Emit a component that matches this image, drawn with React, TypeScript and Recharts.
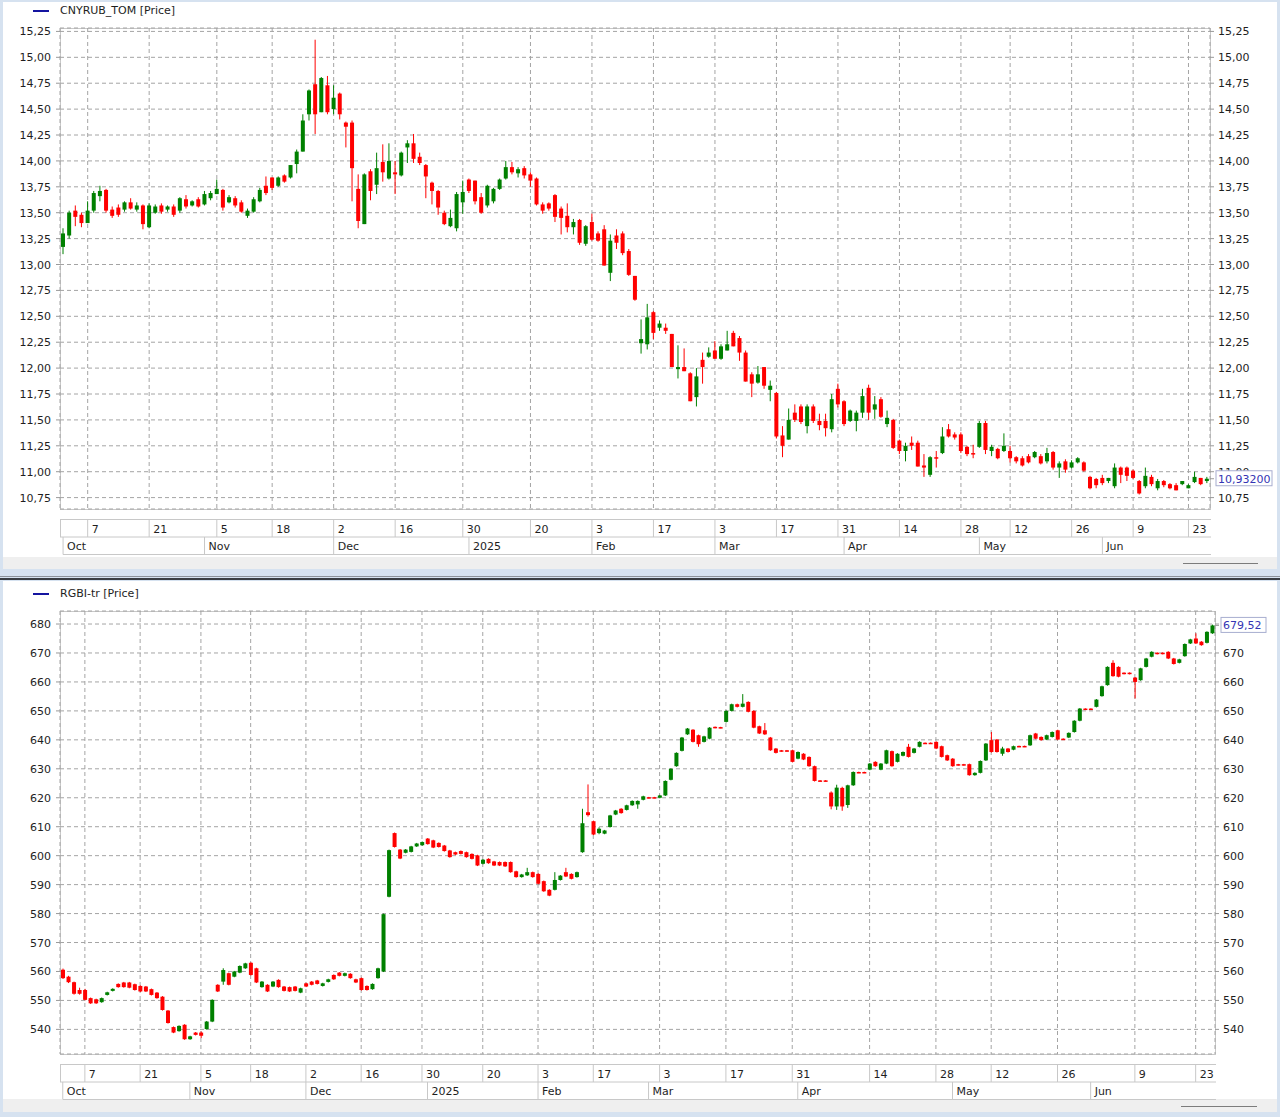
import React from 'react';
import { ComposedChart, Bar, XAxis, YAxis, CartesianGrid } from 'recharts';

type Candle = [number, number, number, number]; // open, high, low, close

const FONT = '"DejaVu Sans", "Liberation Sans", Arial, sans-serif';
const UP = '#008000';
const DOWN = '#ff0000';
const GRID = '#a4a4a4';
const FRAME = '#c8c8c8';
const TEXT = '#1e1e1e';

// CNYRUB_TOM daily candles, Oct 2024 - Jun 2025
const cnyCandles: Candle[] = [
  [13.17, 13.35, 13.1, 13.3], [13.28, 13.52, 13.25, 13.5], [13.52, 13.57, 13.37, 13.46], [13.48, 13.5, 13.36, 13.4],
  [13.4, 13.61, 13.4, 13.52], [13.52, 13.71, 13.5, 13.69], [13.66, 13.76, 13.61, 13.71], [13.72, 13.73, 13.5, 13.52],
  [13.53, 13.56, 13.45, 13.47], [13.55, 13.58, 13.46, 13.48], [13.53, 13.61, 13.51, 13.6], [13.6, 13.64, 13.53, 13.54],
  [13.53, 13.6, 13.51, 13.57], [13.57, 13.58, 13.34, 13.39], [13.36, 13.59, 13.35, 13.57], [13.5, 13.58, 13.49, 13.56],
  [13.57, 13.59, 13.49, 13.51], [13.53, 13.57, 13.51, 13.56], [13.56, 13.58, 13.46, 13.48], [13.52, 13.65, 13.5, 13.64],
  [13.63, 13.67, 13.54, 13.56], [13.57, 13.62, 13.56, 13.61], [13.63, 13.65, 13.55, 13.56], [13.58, 13.71, 13.57, 13.68],
  [13.64, 13.71, 13.62, 13.69], [13.68, 13.82, 13.68, 13.73], [13.72, 13.73, 13.52, 13.55], [13.6, 13.67, 13.59, 13.65],
  [13.64, 13.66, 13.55, 13.57], [13.6, 13.62, 13.5, 13.51], [13.47, 13.54, 13.45, 13.52], [13.51, 13.65, 13.5, 13.63],
  [13.61, 13.74, 13.6, 13.72], [13.76, 13.85, 13.67, 13.69], [13.84, 13.84, 13.72, 13.74], [13.76, 13.85, 13.75, 13.84],
  [13.86, 13.87, 13.79, 13.8], [13.84, 13.96, 13.83, 13.96], [13.97, 14.11, 13.88, 14.09], [14.09, 14.45, 14.09, 14.39],
  [14.45, 14.69, 14.39, 14.68], [14.74, 15.17, 14.26, 14.45], [14.47, 14.81, 14.47, 14.8], [14.73, 14.82, 14.45, 14.47],
  [14.5, 14.73, 14.45, 14.61], [14.65, 14.66, 14.4, 14.45], [14.37, 14.38, 14.13, 14.33], [14.37, 14.39, 13.61, 13.93],
  [13.73, 13.87, 13.35, 13.42], [13.39, 13.88, 13.39, 13.87], [13.9, 13.92, 13.62, 13.71], [13.77, 14.08, 13.68, 13.93],
  [13.99, 14.16, 13.8, 13.89], [13.83, 14.17, 13.82, 14.0], [13.89, 14.0, 13.68, 13.87], [13.86, 14.09, 13.85, 14.08],
  [14.13, 14.2, 13.98, 14.17], [14.17, 14.26, 13.98, 14.02], [14.04, 14.08, 13.96, 13.98], [13.96, 13.97, 13.64, 13.85],
  [13.79, 13.8, 13.58, 13.71], [13.71, 13.72, 13.48, 13.55], [13.5, 13.52, 13.38, 13.39], [13.37, 13.53, 13.36, 13.45],
  [13.35, 13.7, 13.32, 13.68], [13.6, 13.81, 13.49, 13.7], [13.82, 13.83, 13.69, 13.71], [13.81, 13.81, 13.58, 13.61],
  [13.65, 13.69, 13.49, 13.5], [13.57, 13.77, 13.55, 13.76], [13.61, 13.74, 13.59, 13.73], [13.73, 13.83, 13.72, 13.82],
  [13.83, 14.0, 13.82, 13.94], [13.94, 13.99, 13.87, 13.89], [13.88, 13.94, 13.84, 13.92], [13.93, 13.95, 13.83, 13.86],
  [13.87, 13.89, 13.75, 13.81], [13.83, 13.84, 13.57, 13.58], [13.58, 13.6, 13.49, 13.52], [13.59, 13.6, 13.52, 13.54],
  [13.67, 13.68, 13.41, 13.46], [13.54, 13.56, 13.29, 13.45], [13.47, 13.59, 13.31, 13.36], [13.36, 13.44, 13.29, 13.41],
  [13.43, 13.44, 13.19, 13.21], [13.2, 13.38, 13.18, 13.37], [13.41, 13.49, 13.23, 13.24], [13.3, 13.32, 13.22, 13.23],
  [13.34, 13.38, 12.99, 12.99], [12.92, 13.29, 12.84, 13.23], [13.28, 13.34, 13.15, 13.21], [13.3, 13.32, 13.09, 13.11],
  [13.13, 13.15, 12.89, 12.9], [12.89, 12.89, 12.65, 12.66], [12.24, 12.47, 12.14, 12.28], [12.23, 12.62, 12.18, 12.49],
  [12.54, 12.55, 12.28, 12.34], [12.39, 12.46, 12.36, 12.43], [12.39, 12.43, 12.33, 12.36], [12.33, 12.33, 12.01, 12.01],
  [11.99, 12.22, 11.9, 12.01], [12.01, 12.19, 11.97, 11.97], [11.95, 11.96, 11.68, 11.68], [11.72, 12.0, 11.63, 11.92],
  [12.08, 12.15, 11.85, 12.01], [12.11, 12.2, 12.1, 12.15], [12.17, 12.26, 12.09, 12.09], [12.09, 12.23, 12.08, 12.21],
  [12.17, 12.36, 12.17, 12.23], [12.34, 12.36, 12.21, 12.21], [12.29, 12.31, 12.07, 12.15], [12.15, 12.17, 11.87, 11.87],
  [11.94, 11.96, 11.72, 11.85], [11.86, 12.02, 11.85, 11.94], [12.01, 12.01, 11.8, 11.83], [11.79, 11.88, 11.68, 11.83],
  [11.76, 11.77, 11.32, 11.34], [11.35, 11.44, 11.14, 11.25], [11.31, 11.61, 11.31, 11.5], [11.57, 11.65, 11.48, 11.5],
  [11.63, 11.65, 11.46, 11.48], [11.44, 11.65, 11.37, 11.63], [11.63, 11.65, 11.47, 11.49], [11.49, 11.56, 11.4, 11.45],
  [11.49, 11.56, 11.34, 11.42], [11.41, 11.75, 11.38, 11.7], [11.8, 11.85, 11.62, 11.65], [11.68, 11.69, 11.44, 11.46],
  [11.49, 11.6, 11.48, 11.59], [11.49, 11.59, 11.39, 11.57], [11.57, 11.8, 11.52, 11.73], [11.81, 11.84, 11.5, 11.57],
  [11.6, 11.73, 11.51, 11.65], [11.7, 11.72, 11.52, 11.53], [11.46, 11.59, 11.43, 11.52], [11.5, 11.51, 11.22, 11.23],
  [11.3, 11.31, 11.17, 11.2], [11.2, 11.28, 11.1, 11.25], [11.28, 11.34, 11.21, 11.25], [11.28, 11.3, 11.05, 11.05],
  [11.06, 11.17, 10.95, 11.04], [10.97, 11.15, 10.95, 11.14], [11.14, 11.2, 11.04, 11.13], [11.18, 11.43, 11.17, 11.34],
  [11.41, 11.46, 11.33, 11.34], [11.36, 11.38, 11.31, 11.33], [11.36, 11.38, 11.18, 11.2], [11.24, 11.25, 11.15, 11.17],
  [11.18, 11.26, 11.13, 11.17], [11.24, 11.49, 11.23, 11.47], [11.47, 11.49, 11.17, 11.21], [11.2, 11.26, 11.15, 11.24],
  [11.22, 11.23, 11.12, 11.13], [11.2, 11.37, 11.19, 11.25], [11.2, 11.25, 11.09, 11.13], [11.14, 11.15, 11.08, 11.1],
  [11.13, 11.15, 11.05, 11.06], [11.15, 11.17, 11.08, 11.09], [11.14, 11.2, 11.13, 11.19], [11.15, 11.17, 11.07, 11.08],
  [11.1, 11.23, 11.08, 11.18], [11.19, 11.2, 11.02, 11.04], [11.04, 11.1, 10.94, 11.08], [11.1, 11.12, 10.99, 11.02],
  [11.04, 11.11, 11.03, 11.09], [11.09, 11.14, 11.08, 11.13], [11.09, 11.1, 11.0, 11.01], [10.95, 10.96, 10.83, 10.84],
  [10.93, 10.94, 10.84, 10.87], [10.94, 10.97, 10.87, 10.89], [10.91, 10.94, 10.89, 10.94], [10.86, 11.08, 10.84, 11.04],
  [11.04, 11.05, 10.89, 10.97], [11.04, 11.05, 10.91, 10.96], [11.01, 11.02, 10.93, 10.94], [10.91, 10.92, 10.78, 10.79],
  [10.86, 11.04, 10.84, 10.96], [10.95, 10.97, 10.86, 10.88], [10.84, 10.93, 10.82, 10.91], [10.91, 10.92, 10.85, 10.87],
  [10.88, 10.89, 10.83, 10.84], [10.87, 10.89, 10.82, 10.82], [10.88, 10.91, 10.87, 10.91], [10.84, 10.88, 10.84, 10.87],
  [10.9, 11.0, 10.89, 10.95], [10.94, 10.94, 10.87, 10.88], [10.91, 10.95, 10.89, 10.932],
];
const cnyDayTicks = [4, 14, 25, 34, 44, 54, 65, 76, 86, 96, 106, 116, 126, 136, 146, 154, 164, 174, 183];
const cnyDayLabels = ['7', '21', '5', '18', '2', '16', '30', '20', '3', '17', '3', '17', '31', '14', '28', '12', '26', '9', '23'];
const cnyMonthTicks = [0, 23, 44, 66, 86, 106, 127, 149, 169];
const cnyMonthLabels = ['Oct', 'Nov', 'Dec', '2025', 'Feb', 'Mar', 'Apr', 'May', 'Jun'];
const cnyPriceTicks = [10.75, 11, 11.25, 11.5, 11.75, 12, 12.25, 12.5, 12.75, 13, 13.25, 13.5, 13.75, 14, 14.25, 14.5, 14.75, 15, 15.25];

// RGBI-tr daily candles, Oct 2024 - Jun 2025
const rgbiCandles: Candle[] = [
  [560.6, 561.0, 557.4, 557.7], [558.2, 558.5, 556.0, 556.3], [556.3, 556.5, 552.0, 552.3], [553.6, 554.4, 552.0, 552.3],
  [553.6, 554.0, 550.0, 550.2], [550.8, 551.0, 548.8, 549.0], [550.4, 550.6, 548.8, 549.0], [549.4, 551.0, 549.2, 550.8],
  [551.9, 553.0, 551.7, 552.8], [553.3, 554.2, 553.1, 554.0], [555.7, 555.9, 554.4, 554.6], [556.2, 556.4, 554.4, 554.6],
  [556.2, 556.4, 554.2, 554.4], [555.6, 555.8, 553.4, 553.6], [555.0, 555.2, 552.9, 553.1], [554.8, 555.0, 552.9, 553.1],
  [553.9, 554.1, 551.7, 551.9], [552.7, 552.9, 550.6, 550.8], [551.3, 551.5, 546.5, 546.7], [546.5, 546.7, 542.0, 542.2],
  [540.8, 541.0, 538.7, 538.9], [539.4, 541.4, 539.2, 541.2], [541.6, 541.8, 536.4, 536.6], [536.6, 537.8, 536.4, 537.6],
  [538.9, 539.1, 537.9, 538.1], [538.9, 539.3, 537.0, 537.8], [540.1, 542.9, 539.9, 542.7], [542.7, 550.4, 542.5, 550.2],
  [555.4, 555.6, 552.9, 553.1], [556.5, 561.1, 555.4, 560.5], [559.4, 559.6, 555.2, 555.4], [558.2, 560.2, 558.0, 560.0],
  [559.6, 562.1, 559.4, 561.9], [561.1, 563.0, 560.9, 562.8], [563.0, 563.2, 558.6, 558.8], [561.1, 561.3, 556.0, 556.2],
  [554.6, 556.7, 554.4, 556.5], [555.4, 555.6, 552.9, 553.1], [554.8, 556.7, 554.6, 556.5], [557.1, 557.3, 554.4, 554.6],
  [554.8, 555.0, 553.1, 553.3], [554.6, 554.8, 552.9, 553.1], [554.8, 555.0, 553.1, 553.3], [552.7, 554.4, 552.5, 554.2],
  [555.9, 556.1, 554.6, 554.8], [556.5, 556.7, 555.2, 555.4], [556.9, 557.1, 555.5, 555.7], [555.0, 556.1, 554.8, 555.9],
  [556.4, 557.5, 556.2, 557.3], [558.8, 559.0, 557.1, 557.3], [559.6, 559.8, 558.3, 558.5], [558.5, 559.6, 558.3, 559.4],
  [559.2, 559.4, 557.5, 557.7], [557.3, 557.5, 556.0, 556.2], [557.7, 557.9, 553.4, 553.6], [555.0, 555.2, 553.4, 553.6],
  [553.9, 555.9, 553.7, 555.7], [557.7, 561.3, 557.5, 561.1], [560.0, 580.0, 559.8, 579.8], [585.8, 602.1, 585.6, 601.9],
  [607.8, 608.0, 602.8, 603.0], [602.1, 602.3, 598.8, 599.0], [601.0, 602.3, 600.8, 602.1], [601.3, 603.4, 601.1, 603.2],
  [603.2, 604.4, 603.0, 604.2], [603.6, 604.9, 603.4, 604.7], [605.9, 606.1, 603.8, 604.0], [605.3, 605.5, 602.6, 602.8],
  [604.4, 604.6, 602.8, 603.0], [603.5, 603.7, 601.4, 601.6], [601.8, 602.0, 599.3, 599.5], [601.2, 601.4, 600.2, 600.4],
  [601.6, 601.8, 600.4, 600.6], [601.2, 601.4, 599.3, 599.5], [600.6, 600.8, 598.7, 598.9], [600.1, 600.3, 596.4, 596.6],
  [597.2, 598.8, 597.0, 598.6], [598.9, 599.1, 597.2, 597.4], [598.0, 598.2, 596.4, 596.6], [597.8, 598.0, 596.4, 596.6],
  [597.8, 598.0, 596.1, 596.3], [597.8, 598.0, 594.1, 594.3], [594.6, 594.8, 592.4, 592.6], [592.6, 593.7, 592.4, 593.5],
  [593.2, 595.8, 593.0, 594.3], [594.3, 594.5, 592.4, 592.6], [593.7, 593.9, 590.1, 590.3], [591.2, 591.4, 587.5, 587.7],
  [588.2, 588.4, 586.0, 586.2], [588.2, 594.3, 588.0, 591.6], [591.6, 593.3, 591.4, 593.1], [594.3, 595.8, 592.6, 592.8],
  [593.7, 593.9, 591.8, 592.0], [592.6, 594.5, 592.4, 594.3], [601.2, 616.2, 601.0, 611.2], [615.0, 624.6, 613.5, 614.0],
  [611.9, 612.1, 607.1, 607.3], [607.8, 609.8, 607.4, 609.3], [607.6, 608.9, 607.4, 608.7], [609.9, 614.1, 609.7, 613.9],
  [614.2, 615.8, 614.0, 615.6], [616.2, 616.4, 614.5, 614.7], [615.8, 617.6, 615.6, 617.4], [617.4, 619.1, 617.2, 618.9],
  [617.7, 619.1, 616.2, 618.9], [619.3, 620.7, 619.1, 620.5], [620.2, 620.3, 619.8, 619.9], [620.2, 620.3, 619.8, 619.9],
  [620.0, 621.0, 619.8, 620.8], [620.8, 626.0, 620.6, 625.8], [626.2, 630.2, 626.0, 630.0], [630.9, 635.7, 630.7, 635.5],
  [636.2, 641.0, 636.0, 640.8], [641.9, 644.1, 641.7, 643.9], [643.5, 643.7, 639.1, 639.3], [641.6, 641.8, 637.6, 638.5],
  [639.3, 641.4, 639.1, 641.2], [640.4, 644.4, 640.2, 644.2], [644.5, 644.6, 644.0, 644.1], [644.4, 644.5, 644.0, 644.1],
  [646.2, 650.2, 646.0, 650.0], [650.0, 652.5, 649.8, 652.3], [652.3, 652.5, 651.2, 651.4], [651.4, 655.8, 651.2, 652.5],
  [653.1, 653.3, 649.5, 649.7], [650.0, 650.2, 644.0, 644.2], [644.7, 644.9, 642.0, 642.2], [643.3, 645.8, 641.7, 641.9],
  [640.8, 641.0, 636.2, 636.4], [637.0, 637.2, 635.3, 635.5], [636.4, 636.5, 635.9, 636.0], [636.4, 636.5, 635.9, 636.0],
  [636.4, 636.6, 632.2, 632.4], [633.5, 636.0, 633.3, 635.8], [635.2, 635.4, 633.0, 633.2], [634.1, 634.3, 630.7, 630.9],
  [630.9, 631.1, 625.6, 625.8], [626.0, 626.1, 625.6, 625.7], [626.0, 626.1, 625.6, 625.7], [621.8, 622.2, 616.0, 617.0],
  [617.0, 624.5, 615.8, 623.5], [623.4, 623.8, 615.5, 617.0], [617.5, 624.5, 616.5, 624.3], [624.3, 629.1, 624.1, 628.9],
  [628.9, 629.0, 628.5, 628.6], [628.9, 629.0, 628.5, 628.6], [629.7, 632.0, 629.5, 631.8], [632.4, 632.6, 630.7, 630.9],
  [629.7, 632.0, 629.5, 631.8], [631.8, 636.6, 631.6, 636.4], [636.1, 636.3, 630.7, 630.9], [632.4, 635.4, 632.2, 635.2],
  [634.5, 636.0, 634.3, 635.8], [637.6, 638.6, 633.9, 634.1], [635.5, 637.2, 635.3, 637.0], [637.6, 639.5, 637.4, 639.3],
  [639.0, 639.1, 638.7, 638.8], [639.0, 639.1, 638.7, 638.8], [639.3, 639.5, 636.8, 637.0], [637.8, 638.0, 633.9, 634.1],
  [634.7, 634.9, 632.7, 632.9], [633.5, 633.7, 630.7, 630.9], [631.6, 631.7, 631.1, 631.2], [631.6, 631.7, 631.1, 631.2],
  [631.6, 631.8, 627.6, 627.8], [627.8, 628.8, 627.6, 628.6], [628.6, 632.9, 628.4, 632.7], [632.9, 638.9, 632.7, 638.7],
  [639.9, 642.7, 635.6, 635.8], [640.1, 640.3, 635.6, 635.8], [635.2, 637.6, 634.5, 637.0], [637.0, 637.2, 635.6, 635.8],
  [636.6, 638.0, 636.4, 637.8], [637.9, 638.0, 637.5, 637.6], [637.9, 638.0, 637.5, 637.6], [638.1, 641.8, 637.9, 641.6],
  [642.2, 642.4, 640.2, 640.4], [641.0, 641.2, 639.7, 639.9], [640.1, 641.8, 639.9, 641.6], [641.0, 642.9, 640.8, 642.7],
  [643.3, 643.5, 639.9, 640.1], [640.4, 640.5, 640.0, 640.1], [640.8, 642.6, 640.6, 642.4], [642.7, 646.8, 642.5, 646.6],
  [646.6, 651.0, 646.4, 650.8], [650.8, 650.9, 650.4, 650.5], [650.8, 650.9, 650.4, 650.5], [651.4, 654.1, 651.2, 653.9],
  [655.1, 658.7, 654.9, 658.5], [658.9, 665.4, 658.7, 665.2], [666.6, 667.5, 661.8, 662.0], [665.2, 665.4, 661.6, 661.8],
  [663.2, 663.3, 662.6, 662.7], [663.2, 663.3, 662.6, 662.7], [661.5, 661.7, 654.3, 660.0], [660.6, 664.9, 660.4, 664.7],
  [665.2, 668.3, 665.0, 668.1], [668.7, 670.6, 668.5, 670.4], [670.1, 670.2, 669.5, 669.6], [670.1, 670.2, 669.5, 669.6],
  [670.4, 670.6, 667.9, 668.1], [668.1, 668.3, 666.0, 666.2], [666.6, 668.0, 666.4, 667.8], [668.9, 673.3, 668.7, 673.1],
  [673.3, 674.9, 673.1, 674.7], [675.0, 676.8, 673.1, 673.3], [673.9, 674.1, 672.5, 672.7], [673.5, 677.5, 673.3, 677.3],
  [676.8, 679.8, 676.6, 679.52],
];
const rgbiDayTicks = [4, 14, 25, 34, 44, 54, 65, 76, 86, 96, 108, 120, 132, 146, 158, 168, 180, 194, 205];
const rgbiDayLabels = ['7', '21', '5', '18', '2', '16', '30', '20', '3', '17', '3', '17', '31', '14', '28', '12', '26', '9', '23'];
const rgbiMonthTicks = [0, 23, 44, 66, 86, 106, 133, 161, 186];
const rgbiMonthLabels = ['Oct', 'Nov', 'Dec', '2025', 'Feb', 'Mar', 'Apr', 'May', 'Jun'];
const rgbiPriceTicks = [540, 550, 560, 570, 580, 590, 600, 610, 620, 630, 640, 650, 660, 670, 680];

function CandleShape(props: any) {
  const { x, y, width, height, payload } = props;
  if (!payload || height == null) return null;
  const { o, h, l, c } = payload;
  const top = Math.min(y, y + height);
  const span = Math.abs(height);
  const k = h > l ? span / (h - l) : 0;
  const color = c >= o ? UP : DOWN;
  const bodyTop = top + (h - Math.max(o, c)) * k;
  const bodyH = Math.max(1.5, Math.abs(o - c) * k);
  const cx = x + width / 2;
  return (
    <g>
      <line x1={cx} x2={cx} y1={top} y2={top + span} stroke={color} strokeWidth={1} />
      <rect x={x} y={bodyTop} width={width} height={bodyH} fill={color} />
    </g>
  );
}

interface PanelProps {
  title: string;
  top: number;
  height: number;
  plotTop: number;
  plotBottom: number;
  rightWidth: number;
  candles: Candle[];
  dayTicks: number[];
  dayLabels: string[];
  monthTicks: number[];
  monthLabels: string[];
  priceTicks: number[];
  domain: [number, number];
  fmt: (v: number) => string;
  lastFmt: (v: number) => string;
  lastBoxWidth: number;
}

function Panel(p: PanelProps) {
  const data = p.candles.map(([o, h, l, c], i) => ({ i, o, h, l, c, hl: [l, h] }));
  const last = p.candles[p.candles.length - 1][3];
  const step = p.priceTicks[1] - p.priceTicks[0];
  const plotRight = 1280 - p.rightWidth;
  const boxTop = p.plotBottom + 10.5;
  const rowH = 17.5;
  const axisH = 47;

  const dayTick = (t: any) => {
    const k = p.dayTicks.indexOf(t.payload.value);
    return (
      <g>
        <line x1={t.x} x2={t.x} y1={boxTop} y2={boxTop + rowH} stroke={FRAME} />
        <text x={t.x + 4} y={boxTop + 13} fontSize={11} fontFamily={FONT} fill={TEXT}>
          {p.dayLabels[k]}
        </text>
      </g>
    );
  };
  const monthTick = (t: any) => {
    const k = p.monthTicks.indexOf(t.payload.value);
    return (
      <g>
        <line x1={t.x} x2={t.x} y1={boxTop + rowH} y2={boxTop + 2 * rowH} stroke={FRAME} />
        <text x={t.x + 4} y={boxTop + rowH + 13} fontSize={11} fontFamily={FONT} fill={TEXT}>
          {p.monthLabels[k]}
        </text>
      </g>
    );
  };
  const leftTick = (t: any) => (
    <text x={t.x} y={t.y} dy={4} textAnchor="end" fontSize={11} fontFamily={FONT} fill={TEXT}>
      {p.fmt(t.payload.value)}
    </text>
  );
  const rightTick = (t: any) => {
    if (t.index === p.priceTicks.length) {
      return (
        <g>
          <rect x={t.x - 2} y={t.y - 8} width={p.lastBoxWidth} height={15} fill="#ffffff" stroke="#a8aed0" />
          <text x={t.x} y={t.y} dy={4} fontSize={11} fontFamily={FONT} fill="#3434b4">
            {p.lastFmt(t.payload.value)}
          </text>
        </g>
      );
    }
    // a label fully covered by the last-value box is not drawn
    if (Math.abs(t.payload.value - last) < step * 0.15) return <g />;
    return (
      <text x={t.x} y={t.y} dy={4} fontSize={11} fontFamily={FONT} fill={TEXT}>
        {p.fmt(t.payload.value)}
      </text>
    );
  };

  return (
    <div style={{ position: 'absolute', left: 0, top: p.top, width: 1280, height: p.height }}>
      <svg width={1280} height={p.height} style={{ position: 'absolute', left: 0, top: 0 }}>
        <rect x={60.5} y={p.plotTop + 0.5} width={plotRight - 60} height={p.plotBottom - p.plotTop} fill="none" stroke={FRAME} />
        <line x1={60} x2={plotRight + 1} y1={boxTop} y2={boxTop} stroke={FRAME} />
        <line x1={60} x2={plotRight + 1} y1={boxTop + rowH} y2={boxTop + rowH} stroke={FRAME} />
        <line x1={63} x2={plotRight + 1} y1={boxTop + 2 * rowH} y2={boxTop + 2 * rowH} stroke={FRAME} />
        <line x1={60.5} x2={60.5} y1={boxTop} y2={boxTop + rowH} stroke={FRAME} />
      </svg>
      <div style={{ position: 'absolute', left: 0, top: 0 }}>
        <ComposedChart
          width={1280}
          height={p.height}
          data={data}
          margin={{ top: p.plotTop, right: 0, left: 0, bottom: p.height - p.plotBottom - axisH }}
        >
          <CartesianGrid xAxisId="d" yAxisId="p" stroke={GRID} strokeDasharray="4 3" />
          <XAxis
            xAxisId="d"
            dataKey="i"
            type="category"
            ticks={p.dayTicks}
            interval={0}
            height={46}
            axisLine={false}
            tickLine={false}
            tickSize={0}
            tick={dayTick}
          />
          <XAxis
            xAxisId="m"
            dataKey="i"
            type="category"
            ticks={p.monthTicks}
            interval={0}
            height={1}
            axisLine={false}
            tickLine={false}
            tickSize={0}
            tick={monthTick}
          />
          <YAxis
            yAxisId="p"
            orientation="left"
            width={60}
            type="number"
            domain={p.domain}
            allowDataOverflow
            ticks={p.priceTicks}
            interval={0}
            axisLine={false}
            tickLine={{ stroke: '#9a9a9a' }}
            tickSize={4}
            tickMargin={5}
            tick={leftTick}
          />
          <YAxis
            yAxisId="r"
            orientation="right"
            width={p.rightWidth}
            type="number"
            domain={p.domain}
            allowDataOverflow
            ticks={[...p.priceTicks, last]}
            interval={0}
            axisLine={false}
            tickLine={{ stroke: '#9a9a9a' }}
            tickSize={4}
            tickMargin={4}
            tick={rightTick}
          />
          <Bar
            xAxisId="d"
            yAxisId="p"
            dataKey="hl"
            barSize={4}
            shape={CandleShape}
            isAnimationActive={false}
          />
        </ComposedChart>
      </div>
      <div
        style={{
          position: 'absolute',
          left: 33,
          top: p.plotTop - 18,
          width: 16,
          height: 2,
          background: '#1414a0',
        }}
      />
      <div
        style={{
          position: 'absolute',
          left: 60,
          top: p.plotTop - 24,
          fontFamily: FONT,
          fontSize: 11,
          lineHeight: '14px',
          color: TEXT,
          whiteSpace: 'nowrap',
        }}
      >
        {p.title}
      </div>
    </div>
  );
}

const comma2 = (v: number) => v.toFixed(2).replace('.', ',');
const int0 = (v: number) => String(Math.round(v));

export default function App() {
  return (
    <div
      style={{
        position: 'absolute',
        left: 0,
        top: 0,
        width: 1280,
        height: 1117,
        background: '#d6e2f0',
        overflow: 'hidden',
      }}
    >
      <div style={{ position: 'absolute', left: 3, top: 2, width: 1274, height: 555, background: '#ffffff' }} />
      <div style={{ position: 'absolute', left: 3, top: 557, width: 1274, height: 12, background: '#efefef' }} />
      <div style={{ position: 'absolute', left: 1183, top: 563, width: 75, height: 1, background: '#7c7c7c' }} />
      <div style={{ position: 'absolute', left: 0, top: 576, width: 1280, height: 1, background: '#8c929a' }} />
      <div style={{ position: 'absolute', left: 0, top: 578, width: 1280, height: 2, background: '#3a3e44' }} />
      <div style={{ position: 'absolute', left: 3, top: 581, width: 1274, height: 518, background: '#ffffff' }} />
      <div style={{ position: 'absolute', left: 3, top: 1099, width: 1274, height: 13, background: '#efefef' }} />
      <div style={{ position: 'absolute', left: 1181, top: 1106, width: 76, height: 1, background: '#7c7c7c' }} />
      <Panel
        title="CNYRUB_TOM [Price]"
        top={0}
        height={575}
        plotTop={28}
        plotBottom={509}
        rightWidth={70}
        candles={cnyCandles}
        dayTicks={cnyDayTicks}
        dayLabels={cnyDayLabels}
        monthTicks={cnyMonthTicks}
        monthLabels={cnyMonthLabels}
        priceTicks={cnyPriceTicks}
        domain={[10.64, 15.283]}
        fmt={comma2}
        lastFmt={(v) => v.toFixed(5).replace('.', ',')}
        lastBoxWidth={56}
      />
      <Panel
        title="RGBI-tr [Price]"
        top={580}
        height={537}
        plotTop={31}
        plotBottom={474}
        rightWidth={65}
        candles={rgbiCandles}
        dayTicks={rgbiDayTicks}
        dayLabels={rgbiDayLabels}
        monthTicks={rgbiMonthTicks}
        monthLabels={rgbiMonthLabels}
        priceTicks={rgbiPriceTicks}
        domain={[531.5, 684.5]}
        fmt={int0}
        lastFmt={comma2}
        lastBoxWidth={45}
      />
    </div>
  );
}
